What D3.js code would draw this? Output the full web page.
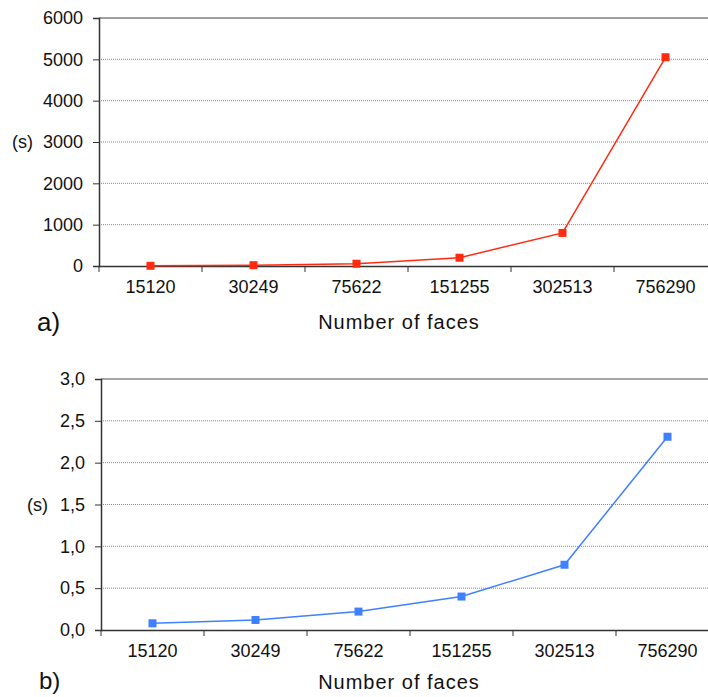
<!DOCTYPE html>
<html>
<head>
<meta charset="utf-8">
<script src="https://d3js.org/d3.v7.min.js"></script>
<style>
  body { margin: 0; background: #fff; }
  text { font-family: "Liberation Sans", Arial, sans-serif; fill: #111; }
</style>
</head>
<body>
<script>
// number of faces (categories)
const faces = ["15120", "30249", "75622", "151255", "302513", "756290"];
// a) times in seconds
const timeA = [5, 20, 55, 200, 800, 5050];
// b) times in seconds
const timeB = [0.08, 0.12, 0.22, 0.40, 0.78, 2.31];
const ticksA = [0, 1000, 2000, 3000, 4000, 5000, 6000];
const ticksB = [0, 0.5, 1.0, 1.5, 2.0, 2.5, 3.0];

var width = 708, height = 697;

var svg = d3.select("body").append("svg")
  .attr("width", width)
  .attr("height", height);

function panel(p) {
  var x = d3.scaleBand().domain(faces).range([p.left, p.left + 618]);
  var y = d3.scaleLinear().domain([0, p.max]).range([p.bottom, p.top]);
  var g = svg.append("g");

  // dotted gridlines
  g.selectAll("line.grid")
    .data(p.ticks.slice(1, -1))
    .enter().append("line")
      .attr("x1", p.left).attr("x2", width)
      .attr("y1", d => y(d)).attr("y2", d => y(d))
      .attr("stroke", "#8a8a8a")
      .attr("stroke-width", 1)
      .attr("stroke-dasharray", "1,1");

  // top border
  g.append("line")
    .attr("x1", p.left).attr("x2", width)
    .attr("y1", y(p.max)).attr("y2", y(p.max))
    .attr("stroke", p.topColor)
    .attr("stroke-width", p.topWidth);

  // y axis
  var ya = g.append("g")
    .attr("transform", "translate(" + p.left + ",0)")
    .call(d3.axisLeft(y).tickValues(p.ticks).tickSize(6).tickPadding(10).tickFormat(p.fmt));
  ya.select(".domain").attr("stroke", "#333").attr("stroke-width", 1.5);
  ya.selectAll(".tick line").attr("stroke", "#333");
  ya.selectAll(".tick text").attr("font-size", 18).attr("fill", "#111");

  // x axis
  var xa = g.append("g")
    .attr("transform", "translate(0," + p.bottom + ")")
    .call(d3.axisBottom(x).tickSize(0).tickPadding(14));
  xa.select(".domain").attr("stroke", "#333").attr("stroke-width", 1.5);
  xa.selectAll(".tick text").attr("font-size", 18).attr("fill", "#111");
  // category separator ticks
  g.selectAll("line.sep")
    .data(faces)
    .enter().append("line")
      .attr("x1", d => x(d)).attr("x2", d => x(d))
      .attr("y1", p.bottom).attr("y2", p.bottom + 6)
      .attr("stroke", "#333");

  // line + markers
  var line = d3.line()
    .x((d, i) => x(faces[i]) + x.bandwidth() / 2)
    .y(d => y(d));
  g.append("path")
    .datum(p.data)
    .attr("d", line)
    .attr("fill", "none")
    .attr("stroke", p.color)
    .attr("stroke-width", 1.5);
  g.selectAll("rect.pt")
    .data(p.data)
    .enter().append("rect")
      .attr("x", (d, i) => x(faces[i]) + x.bandwidth() / 2 - 4)
      .attr("y", d => y(d) - 4)
      .attr("width", 8).attr("height", 8)
      .attr("fill", p.color);

  // labels
  g.append("text")
    .attr("x", p.unitX).attr("y", y(p.unitAt))
    .attr("dy", "0.35em")
    .attr("font-size", 18)
    .text("(s)");
  g.append("text")
    .attr("x", 399).attr("y", p.bottom + p.titleDy)
    .attr("text-anchor", "middle")
    .attr("font-size", 20)
    .attr("letter-spacing", 1)
    .text("Number of faces");
  g.append("text")
    .attr("x", p.tagX).attr("y", p.bottom + p.tagDy)
    .attr("font-size", p.tagSize)
    .text(p.tag);
}

panel({
  left: 99, top: 18, bottom: 266, max: 6000, ticks: ticksA,
  fmt: d3.format("d"), data: timeA, color: "#ff2a0f",
  topColor: "#a0a0a0", topWidth: 2,
  unitX: 12, unitAt: 3000, tagX: 37, tag: "a)", tagDy: 65, tagSize: 26, titleDy: 63
});

panel({
  left: 101, top: 379, bottom: 630, max: 3, ticks: ticksB,
  fmt: d => d3.format(".1f")(d).replace(".", ","), data: timeB, color: "#3f80ff",
  topColor: "#888", topWidth: 1.5,
  unitX: 27, unitAt: 1.5, tagX: 39, tag: "b)", tagDy: 59, tagSize: 24, titleDy: 59
});
</script>
</body>
</html>
